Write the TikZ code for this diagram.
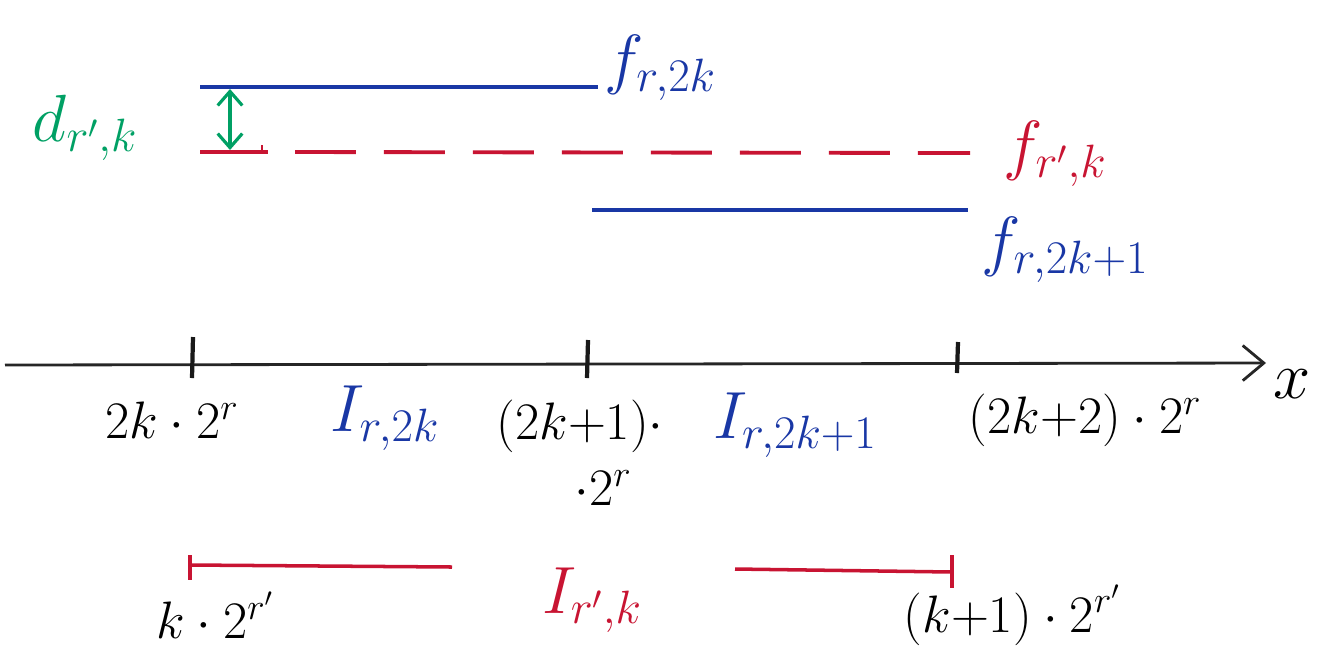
\RequirePackage{fix-cm}
\documentclass[tikz,border=0pt]{standalone}
\usepackage{amsmath}
\usetikzlibrary{arrows.meta}
\definecolor{pblue}{RGB}{25,55,165}
\definecolor{pred}{RGB}{200,20,50}
\definecolor{pgreen}{RGB}{0,160,100}
\begin{document}
\begin{tikzpicture}[x=0.02cm,y=-0.02cm,
  lbl/.style={font=\fontsize{30}{36}\selectfont, inner sep=0pt},
  biglbl/.style={font=\fontsize{38}{44}\selectfont, inner sep=0pt},
  axisline/.style={line width=1.6pt, black!85},
  tickmark/.style={line width=2.4pt, black!90},
  blueline/.style={line width=2pt, pblue},
  redline/.style={line width=2pt, pred},
  reddash/.style={line width=2.2pt, pred, dash pattern=on 1.22cm off 0.56cm},
  greenarrow/.style={line width=1.8pt, pgreen, {Straight Barb[length=8pt,width=14pt]}-{Straight Barb[length=8pt,width=14pt]}},
]
\useasboundingbox (0,0) rectangle (1327,657);

% axis
\coordinate (a0) at (5,365);
\coordinate (a1) at (1266,363);
\draw[axisline,-{Straight Barb[length=12pt,width=20pt,line width=1.6pt]}] (a0) -- (a1);
\node[biglbl] (xl) at (1292,384) {$x$};

% ticks
\coordinate (t1a) at (193,337); \coordinate (t1b) at (192,378);
\coordinate (t2a) at (588,340); \coordinate (t2b) at (587,378);
\coordinate (t3a) at (958,342); \coordinate (t3b) at (957,373);
\draw[tickmark] (t1a) -- (t1b);
\draw[tickmark] (t2a) -- (t2b);
\draw[tickmark] (t3a) -- (t3b);

% axis labels
\node[lbl] (l1) at (172,420) {$2k\cdot 2^{r}$};
\node[biglbl, pblue] (i1) at (385,418) {$I_{r,2k}$};
\node[lbl] (l2a) at (580,426) {$(2k{+}1)\cdot$};
\node[lbl] (l2b) at (603,488) {$\cdot 2^{r}$};
\node[biglbl, pblue] (i2) at (795,425) {$I_{r,2k+1}$};
\node[lbl] (l3) at (1085,420) {$(2k{+}2)\cdot 2^{r}$};

% top: f_{r,2k}
\coordinate (b1s) at (200,87); \coordinate (b1e) at (598,87);
\draw[blueline] (b1s) -- (b1e);
\node[biglbl, pblue] (f1) at (660,68) {$f_{r,2k}$};

% red dashed f_{r',k}
\coordinate (r0s) at (200,152); \coordinate (r0e) at (268,152);
\coordinate (r0t) at (262,145);
\draw[redline] (r0s) -- (r0e);
\draw[redline, line width=1.4pt] (r0t) -- ++(0,7);
\coordinate (rds) at (295,152); \coordinate (rde) at (970,153);
\draw[reddash] (rds) -- (rde);
\node[biglbl, pred] (f2) at (1055,154) {$f_{r',k}$};

% blue f_{r,2k+1}
\coordinate (b2s) at (592,210); \coordinate (b2e) at (968,210);
\draw[blueline] (b2s) -- (b2e);
\node[biglbl, pblue] (f3) at (1065,250) {$f_{r,2k+1}$};

% green d_{r',k}
\coordinate (g1) at (230,89); \coordinate (g2) at (230,150);
\draw[greenarrow] (g1) -- (g2);
\node[biglbl, pgreen] (d) at (85,128) {$d_{r',k}$};

% bottom red interval
\coordinate (q1t) at (190,555); \coordinate (q1b) at (190,580);
\coordinate (q1s) at (190,565); \coordinate (q1e) at (452,567);
\coordinate (q2s) at (735,569); \coordinate (q2e) at (952,572);
\coordinate (q2t) at (952,555); \coordinate (q2b) at (952,588);
\draw[redline] (q1t) -- (q1b);
\draw[redline] (q1s) -- (q1e);
\draw[redline] (q2s) -- (q2e);
\draw[redline] (q2t) -- (q2b);
\node[biglbl, pred] (ik) at (592,600) {$I_{r',k}$};
\node[lbl] (k1) at (215,615) {$k\cdot 2^{r'}$};
\node[lbl] (k2) at (1012,615) {$(k{+}1)\cdot 2^{r'}$};
\end{tikzpicture}
\end{document}
